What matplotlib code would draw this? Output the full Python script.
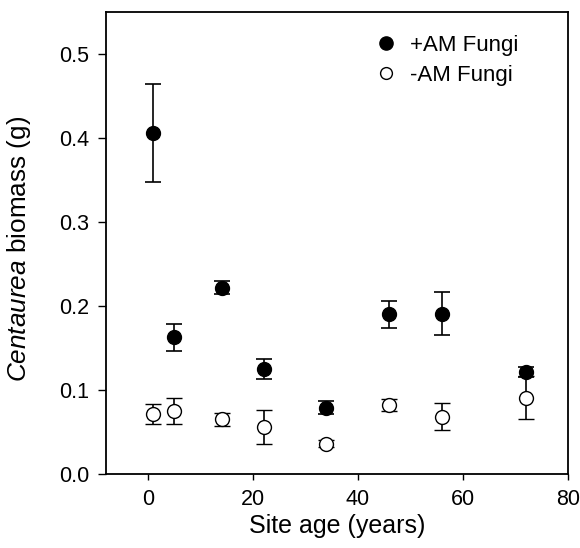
import matplotlib
matplotlib.use("Agg")
import matplotlib.pyplot as plt
from matplotlib.lines import Line2D

plt.rcParams['font.family'] = ['Liberation Sans', 'DejaVu Sans']
plt.rcParams['mathtext.fontset'] = 'custom'
plt.rcParams['mathtext.rm'] = 'Liberation Sans'
plt.rcParams['mathtext.it'] = 'Liberation Sans:italic'

site_age = [1, 5, 14, 22, 34, 46, 56, 72]
plus_mean = [0.406, 0.163, 0.222, 0.125, 0.079, 0.190, 0.191, 0.121]
plus_err = [0.058, 0.016, 0.008, 0.012, 0.008, 0.016, 0.026, 0.006]
minus_mean = [0.071, 0.075, 0.065, 0.056, 0.036, 0.082, 0.068, 0.091]
minus_err = [0.012, 0.015, 0.008, 0.020, 0.004, 0.007, 0.016, 0.026]
x_ticks = [0, 20, 40, 60, 80]
y_ticks = [0.0, 0.1, 0.2, 0.3, 0.4, 0.5]
y_ticklabels = ['0.0', '0.1', '0.2', '0.3', '0.4', '0.5']
series_labels = ['+AM Fungi', '-AM Fungi']

fig = plt.figure(figsize=(5.8, 5.48), dpi=100)
ax = fig.add_axes([0.183, 0.135, 0.796, 0.843])

ax.errorbar(site_age, minus_mean, yerr=minus_err, fmt='o', mfc='white', mec='black',
            mew=1.0, ms=10, color='black', ecolor='black', elinewidth=1.2, capsize=6,
            capthick=1.2, zorder=2)
ax.errorbar(site_age, plus_mean, yerr=plus_err, fmt='o', mfc='black', mec='black',
            ms=10, color='black', ecolor='black', elinewidth=1.2, capsize=6,
            capthick=1.2, zorder=3)

ax.set_xlim(-8, 80)
ax.set_ylim(0, 0.55)
ax.set_xticks(x_ticks)
ax.set_yticks(y_ticks)
ax.set_yticklabels(y_ticklabels)
ax.tick_params(direction='out', width=1, labelsize=15.5)
ax.tick_params(axis='x', length=4.5, pad=6)
ax.tick_params(axis='y', length=6, pad=6)
for s in ax.spines.values():
    s.set_linewidth(1.3)

ax.set_xlabel('Site age (years)', fontsize=18, labelpad=3)
ax.set_ylabel(r'$\it{Centaurea}$ biomass (g)', fontsize=18.8)
ax.yaxis.set_label_coords(-0.158, 0.488)

handles = [Line2D([], [], marker='o', ls='none', mfc='black', mec='black', ms=9.5),
           Line2D([], [], marker='o', ls='none', mfc='white', mec='black', ms=8.5)]
ax.legend(handles, series_labels, loc='upper left', frameon=False,
          fontsize=16, handlelength=1.0, handletextpad=0.55, labelspacing=0.4,
          borderpad=0, borderaxespad=0, bbox_to_anchor=(0.583, 0.95))

fig.savefig('out.png', dpi=100)
